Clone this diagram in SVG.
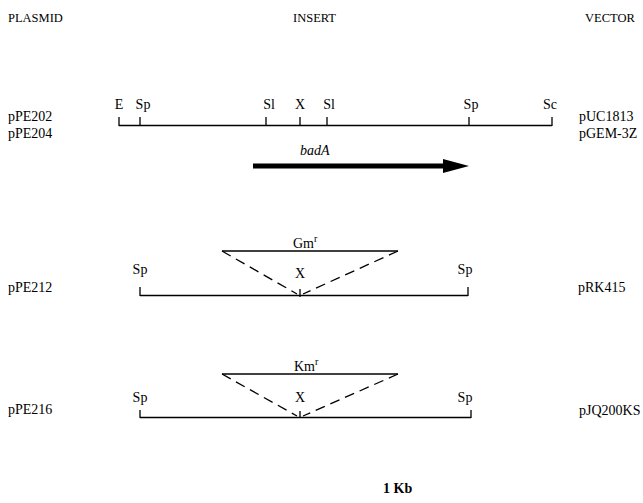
<svg xmlns="http://www.w3.org/2000/svg" width="643" height="503" viewBox="0 0 643 503">
  <style>
    text { font-family: "Liberation Serif", "Times New Roman", serif; font-size: 14px; fill: #000; }
    .head { font-size: 12.5px; }
    .site { text-anchor: middle; }
    .line { stroke: #000; stroke-width: 1.3; fill: none; }
    .dash { stroke: #000; stroke-width: 1.3; fill: none; stroke-dasharray: 10 6; }
  </style>
  <rect width="643" height="503" fill="#fff"/>

  <!-- column headers -->
  <g id="headers">
    <text class="head" x="8" y="22">PLASMID</text>
    <text class="head" x="293" y="22">INSERT</text>
    <text class="head" x="585" y="22">VECTOR</text>
  </g>

  <!-- pPE202 / pPE204 restriction map -->
  <g id="map-pPE202">
    <text x="8" y="121">pPE202</text>
    <text x="8" y="138">pPE204</text>
    <text x="579" y="121">pUC1813</text>
    <text x="579" y="138">pGEM-3Z</text>
    <path class="line" d="M119,125.5 H552 M119,117 V126 M140,117 V126 M266,117 V126 M300,117 V126 M327,117 V126 M469,117 V126 M552,117 V126"/>
    <text class="site" x="119" y="109">E</text>
    <text class="site" x="143" y="109">Sp</text>
    <text class="site" x="269" y="109">Sl</text>
    <text class="site" x="300" y="109">X</text>
    <text class="site" x="329" y="109">Sl</text>
    <text class="site" x="471" y="109">Sp</text>
    <text class="site" x="550" y="109">Sc</text>
  </g>

  <!-- badA gene arrow -->
  <g id="gene-badA">
    <text x="300" y="155" font-style="italic">badA</text>
    <path d="M253,163.5 H443 V159 L469,166 L443,173 V168.5 H253 Z" fill="#000"/>
  </g>

  <!-- pPE212: Gm cassette at the XhoI site -->
  <g id="map-pPE212">
    <text x="8" y="292">pPE212</text>
    <text x="578" y="292">pRK415</text>
    <path class="line" d="M140,295.5 H468 M140,287 V296 M468,287 V296 M300,289 V297"/>
    <text class="site" x="140" y="274">Sp</text>
    <text class="site" x="465" y="274">Sp</text>
    <text class="site" x="300" y="278">X</text>
    <path class="line" d="M222,251 H398"/>
    <path class="dash" d="M222,251 L297,294 M398,251 L303,294"/>
    <text x="293" y="248">Gm<tspan dy="-6" font-size="10">r</tspan></text>
  </g>

  <!-- pPE216: Km cassette at the XhoI site -->
  <g id="map-pPE216">
    <text x="8" y="414">pPE216</text>
    <text x="579" y="415">pJQ200KS</text>
    <path class="line" d="M140,417.5 H471 M140,410 V418 M471,410 V418 M300,411 V418"/>
    <text class="site" x="140" y="402">Sp</text>
    <text class="site" x="465" y="402">Sp</text>
    <text class="site" x="300" y="402">X</text>
    <path class="line" d="M222,374 H398"/>
    <path class="dash" d="M222,374 L297,416 M398,374 L303,416"/>
    <text x="294" y="371">Km<tspan dy="-6" font-size="10">r</tspan></text>
  </g>

  <!-- scale -->
  <g id="scale">
    <text x="383" y="493" font-weight="bold" font-size="13">1 Kb</text>
  </g>
</svg>
